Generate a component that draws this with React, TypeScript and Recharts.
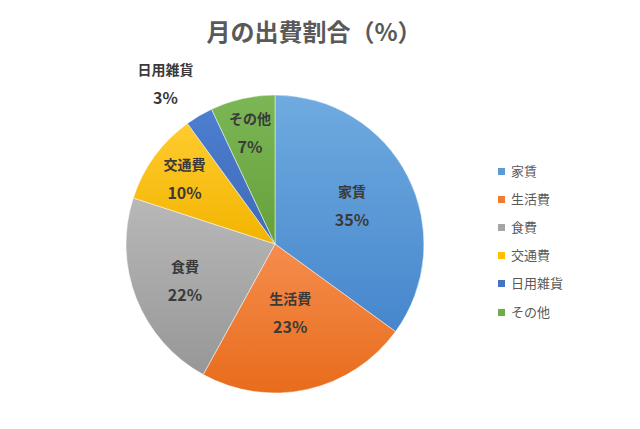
import React from 'react';
import { PieChart, Pie, Cell, Legend } from 'recharts';

const categories = ['家賃', '生活費', '食費', '交通費', '日用雑貨', 'その他'];
const shares = [35, 23, 22, 10, 3, 7];

const pieData = categories.map((name, i) => ({ name, value: shares[i] }));

// top / bottom colours of each slice gradient
const sliceColors = [
  ['#6fabe0', '#4686cc'],
  ['#f58d4d', '#e86c1c'],
  ['#b8b8b8', '#979797'],
  ['#ffcb2e', '#f2b400'],
  ['#4d7ed0', '#3f6ab8'],
  ['#7cb756', '#64a03a'],
];
const legendColors = ['#5b9bd5', '#ed7d31', '#a5a5a5', '#ffc000', '#4472c4', '#70ad47'];
// "best fit" label distance, as a fraction of the radius (0 = put outside)
const labelFit = [0.58, 0.47, 0.65, 0.75, 0, 0.77];

const RADIAN = Math.PI / 180;
const font = '"Noto Sans CJK JP", "Noto Sans", sans-serif';

function renderLabel(props: any) {
  const { cx, cy, midAngle, outerRadius, name, value, index } = props;
  const cos = Math.cos(-midAngle * RADIAN);
  const sin = Math.sin(-midAngle * RADIAN);
  let x: number;
  let y: number;
  if (labelFit[index] === 0) {
    // outside: the box corner nearest the pie sits just off the rim
    const ax = cx + (outerRadius + 11) * cos;
    const ay = cy + (outerRadius + 11) * sin;
    x = ax + Math.sign(cos) * 28;
    y = ay + Math.sign(sin) * 23;
  } else {
    const r = outerRadius * labelFit[index];
    x = cx + r * cos;
    y = cy + r * sin;
  }
  return (
    <g>
      <text x={x} y={y - 14} textAnchor="middle" dominantBaseline="central" fill="#3a3a3a"
        style={{ fontFamily: font, fontSize: 14, fontWeight: 700 }}>
        {name}
      </text>
      <text x={x} y={y + 14} textAnchor="middle" dominantBaseline="central" fill="#3a3a3a"
        style={{ fontFamily: font, fontSize: 16, fontWeight: 700 }}>
        {value}%
      </text>
    </g>
  );
}

function renderLegend() {
  return (
    <div style={{ fontFamily: font, fontSize: 13, color: '#595959' }}>
      {categories.map((c, i) => (
        <div key={c} style={{ display: 'flex', alignItems: 'center', height: 28.2 }}>
          <span style={{ width: 7, height: 7, background: legendColors[i], marginRight: 6, marginTop: 2 }} />
          <span>{c}</span>
        </div>
      ))}
    </div>
  );
}

export default function App() {
  return (
    <div style={{ position: 'absolute', left: 0, top: 0, width: 640, height: 429, background: '#fff' }}>
      <div style={{
        position: 'absolute', left: 0, top: 13, width: 628, textAlign: 'center',
        fontFamily: font, fontSize: 24, fontWeight: 700, color: '#595959', zIndex: 2,
      }}>
        月の出費割合（%）
      </div>
      <PieChart width={640} height={429} margin={{ top: 0, right: 0, bottom: 0, left: 0 }}>
        <defs>
          {sliceColors.map((c, i) => (
            <linearGradient key={`g${i}`} id={`slice-grad-${i}`} x1="0" y1="0" x2="0" y2="1">
              <stop offset="0%" stopColor={c[0]} />
              <stop offset="100%" stopColor={c[1]} />
            </linearGradient>
          ))}
        </defs>
        <Pie
          data={pieData}
          dataKey="value"
          nameKey="name"
          cx={275}
          cy={244}
          outerRadius={149}
          startAngle={90}
          endAngle={-270}
          label={renderLabel}
          labelLine={false}
          isAnimationActive={false}
          stroke="rgba(255,255,255,0.6)"
          strokeWidth={0.8}
        >
          {pieData.map((d, i) => (
            <Cell key={d.name} fill={`url(#slice-grad-${i})`} />
          ))}
        </Pie>
        <Legend
          content={renderLegend}
          wrapperStyle={{ position: 'absolute', left: 498, top: 156, width: 100, height: 'auto' }}
        />
      </PieChart>
    </div>
  );
}
